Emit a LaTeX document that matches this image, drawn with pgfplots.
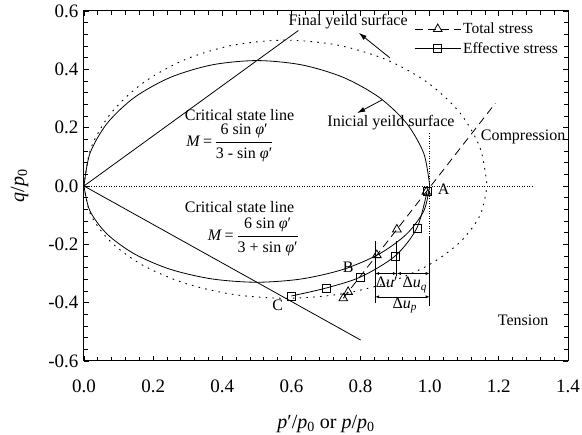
\documentclass[border=0pt]{standalone}
\usepackage{pgfplots}
\pgfplotsset{compat=1.18}
\usepackage{amsmath}
\usepackage{fontspec}
\setmainfont{Liberation Serif}
\usetikzlibrary{arrows.meta}
\begin{document}
\begin{tikzpicture}
\useasboundingbox (-84pt,-74pt) rectangle (498pt,361pt);
\begin{axis}[
  scale only axis, width=484pt, height=350pt,
  xmin=0, xmax=1.4, ymin=-0.6, ymax=0.6,
  xtick={0,0.2,0.4,0.6,0.8,1.0,1.2,1.4},
  ytick={-0.6,-0.4,-0.2,0,0.2,0.4,0.6},
  minor tick num=4,
  tick align=inside,
  major tick length=5pt, minor tick length=4pt,
  tick style={black, line width=0.8pt},
  axis line style={line width=1pt},
  /pgf/number format/fixed, /pgf/number format/fixed zerofill, /pgf/number format/precision=1,
  /pgf/number format/assume math mode=true,
  ticklabel style={font=\fontsize{19}{22}\selectfont},
  xticklabel style={yshift=-15pt},
  yticklabel style={xshift=-2pt},
  label style={font=\fontsize{20}{24}\selectfont},
  xlabel={\textit{p}′/\textit{p}\textsubscript{0} or \textit{p}/\textit{p}\textsubscript{0}},
  ylabel={\textit{q}/\textit{p}\textsubscript{0}},
  x label style={at={(axis description cs:0.5,-0.18)}, anchor=center},
  y label style={at={(axis description cs:-0.133,0.5)}, anchor=center},
  legend style={at={(rel axis cs:0.99,0.978)}, anchor=north east, draw=none, fill=none,
    font=\fontsize{15.5}{18}\selectfont, nodes={font=\fontsize{15.5}{18}\selectfont},
    row sep=3pt, legend cell align=left},
  legend image code/.code={\draw[#1, mark indices={2}] plot coordinates {(0pt,0pt) (23pt,0pt) (46pt,0pt)};},
  clip=false,
]
% total stress path
\addplot[black, line width=0.8pt, dash pattern=on 8pt off 5pt, mark=triangle, mark size=5pt,
  mark options={solid, fill=white}, mark indices={1,2,3,4,5}]
  coordinates {(0.75,-0.385) (0.764,-0.363) (0.847,-0.237) (0.905,-0.149) (0.99,-0.02) (1.19,0.284)};
\addlegendentry{Total stress}
% effective stress path
\addplot[black, line width=0.8pt, smooth, mark=square, mark size=4pt, mark options={solid, fill=white}]
  coordinates {(0.6,-0.377) (0.7,-0.35) (0.8,-0.312) (0.9,-0.24) (0.963,-0.144) (0.992,-0.02)};
\addlegendentry{Effective stress}
% initial yield surface
\addplot[black, line width=0.8pt, smooth, forget plot] coordinates {
 (0,0) (0.01705,0.1113) (0.0670,0.215) (0.14645,0.3041) (0.25,0.3724) (0.3706,0.4153) (0.5,0.43)
 (0.6294,0.4153) (0.75,0.3724) (0.85355,0.3041) (0.9330,0.215) (0.98295,0.1113) (1,0)};
\addplot[black, line width=0.8pt, smooth, forget plot] coordinates {
 (0,0) (0.01705,-0.0854) (0.0670,-0.165) (0.14645,-0.2333) (0.25,-0.2858) (0.3706,-0.3187) (0.5,-0.33)
 (0.6294,-0.3187) (0.75,-0.2858) (0.85355,-0.2333) (0.9330,-0.165) (0.98295,-0.0854) (1,0)};
% final yield surface
\addplot[black, line width=0.9pt, smooth, dash pattern=on 1.6pt off 5.2pt, forget plot] coordinates {
 (0,0) (0.0199,0.1294) (0.0781,0.25) (0.1708,0.3536) (0.2915,0.433) (0.4321,0.483) (0.583,0.5)
 (0.7339,0.483) (0.8745,0.433) (0.9952,0.3536) (1.0879,0.25) (1.1461,0.1294) (1.166,0)};
\addplot[black, line width=0.9pt, smooth, dash pattern=on 1.6pt off 5.2pt, forget plot] coordinates {
 (0,0) (0.0199,-0.0996) (0.0781,-0.1925) (0.1708,-0.2722) (0.2915,-0.3334) (0.4321,-0.3719) (0.583,-0.385)
 (0.7339,-0.3719) (0.8745,-0.3334) (0.9952,-0.2722) (1.0879,-0.1925) (1.1461,-0.0996) (1.166,0)};
% critical state lines
\addplot[black, line width=0.8pt, forget plot] coordinates {(0,0) (0.62,0.533)};
\addplot[black, line width=0.8pt, forget plot] coordinates {(0,0) (0.80,-0.528)};
% reference dotted lines
\addplot[black, line width=0.6pt, dash pattern=on 1pt off 1.5pt, forget plot] coordinates {(0,0) (1.3,0)};
\addplot[black, line width=0.6pt, dash pattern=on 1pt off 1.5pt, forget plot] coordinates {(1.0,0.18) (1.0,-0.17)};
% dimension lines
\draw[line width=0.8pt] (axis cs:0.842,-0.19) -- (axis cs:0.842,-0.40);
\draw[line width=0.8pt] (axis cs:0.905,-0.19) -- (axis cs:0.905,-0.31);
\draw[line width=0.8pt] (axis cs:1.0,-0.17) -- (axis cs:1.0,-0.41);
\draw[line width=0.6pt, {Latex[length=4pt,width=3pt]}-{Latex[length=4pt,width=3pt]}] (axis cs:0.842,-0.30) -- (axis cs:0.905,-0.30);
\draw[line width=0.6pt, {Latex[length=4pt,width=3pt]}-{Latex[length=4pt,width=3pt]}] (axis cs:0.905,-0.30) -- (axis cs:1.0,-0.30);
\draw[line width=0.6pt, {Latex[length=4pt,width=3pt]}-{Latex[length=4pt,width=3pt]}] (axis cs:0.842,-0.38) -- (axis cs:1.0,-0.38);
% arrows
\draw[line width=0.8pt, -{Latex[length=8pt,width=5pt]}] (axis cs:0.885,0.439) -- (axis cs:0.795,0.525);
\draw[line width=0.8pt, -{Latex[length=8pt,width=5pt]}] (axis cs:0.862,0.295) -- (axis cs:0.79,0.250);
% texts
\begin{scope}[every node/.style={font=\fontsize{16}{19}\selectfont, inner sep=0.5pt}]
\node at (axis cs:0.764,0.562) {Final yeild surface};
\node at (axis cs:0.888,0.216) {Inicial yeild surface};
\node at (axis cs:0.45,0.245) {Critical state line};
\node at (axis cs:0.422,0.148) {$\text{\textit{M}\,=\,}\dfrac{\text{6 sin \textit{φ}′}}{\text{3 - sin \textit{φ}′}}$};
\node at (axis cs:0.45,-0.072) {Critical state line};
\node at (axis cs:0.49,-0.174) {$\text{\textit{M}\,=\,}\dfrac{\text{6 sin \textit{φ}′}}{\text{3 + sin \textit{φ}′}}$};
\node at (axis cs:1.27,0.168) {Compression};
\node at (axis cs:1.27,-0.46) {Tension};
\node at (axis cs:1.04,-0.01) {A};
\node at (axis cs:0.764,-0.28) {B};
\node at (axis cs:0.56,-0.41) {C};
\node at (axis cs:0.876,-0.33) {Δ\textit{u}′};
\node at (axis cs:0.957,-0.34) {Δ\textit{u}\textsubscript{\textit{q}}};
\node at (axis cs:0.928,-0.41) {Δ\textit{u}\textsubscript{\textit{p}}};
\end{scope}
\end{axis}
\end{tikzpicture}
\end{document}
